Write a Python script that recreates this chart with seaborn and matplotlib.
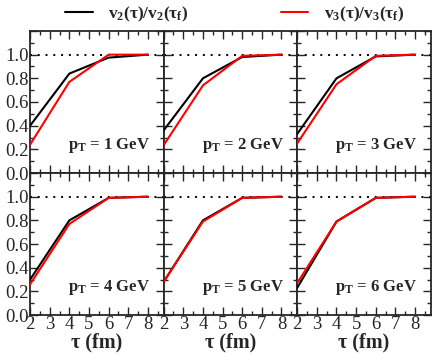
import numpy as np
import pandas as pd
import matplotlib
matplotlib.use("Agg")
import matplotlib.pyplot as plt
from matplotlib.ticker import MultipleLocator, FuncFormatter
import seaborn as sns

# values
tau = [2, 4, 6, 8]
pt_values = [1, 2, 3, 4, 5, 6]
v2_ratio = [
    [0.40, 0.84, 0.975, 1.0],
    [0.36, 0.80, 0.980, 1.0],
    [0.33, 0.80, 0.985, 1.0],
    [0.30, 0.80, 0.990, 1.0],
    [0.28, 0.80, 0.990, 1.0],
    [0.23, 0.79, 0.990, 1.0],
]
v3_ratio = [
    [0.24, 0.77, 1.000, 1.0],
    [0.235, 0.74, 0.990, 1.0],
    [0.25, 0.75, 0.990, 1.0],
    [0.26, 0.77, 0.990, 1.0],
    [0.28, 0.79, 0.990, 1.0],
    [0.27, 0.79, 0.990, 1.0],
]
series_labels = [r"$\mathbf{v_2(τ)/v_2(τ_f)}$", r"$\mathbf{v_3(τ)/v_3(τ_f)}$"]
series_colors = ["black", "red"]

rows = []
for i, pt in enumerate(pt_values):
    for t, a, b in zip(tau, v2_ratio[i], v3_ratio[i]):
        rows.append({"pt": pt, "tau": t, "value": a, "series": series_labels[0]})
        rows.append({"pt": pt, "tau": t, "value": b, "series": series_labels[1]})
df = pd.DataFrame(rows)

sns.set_style("ticks")
plt.rcParams["font.family"] = ["Liberation Serif", "DejaVu Serif"]
plt.rcParams["mathtext.fontset"] = "custom"
plt.rcParams["mathtext.rm"] = "Liberation Serif"
plt.rcParams["mathtext.bf"] = "Liberation Serif:bold"
plt.rcParams["mathtext.it"] = "Liberation Serif:italic"

fig, axes = plt.subplots(2, 3, figsize=(4.36, 3.56), dpi=100, sharex=True, sharey=True)
fig.subplots_adjust(left=0.069, right=0.988, top=0.913, bottom=0.115, wspace=0, hspace=0)

for ax, pt in zip(axes.flatten(), pt_values):
    ax.axhline(1.0, color="black", ls=(0, (1, 3)), lw=1.4, zorder=1)
    sns.lineplot(data=df[df["pt"] == pt], x="tau", y="value", hue="series",
                 palette=series_colors, hue_order=series_labels,
                 lw=1.5, ax=ax, legend=False, zorder=3)
    ax.set_xlim(2, 8.8)
    ax.set_ylim(0, 1.2)
    ax.xaxis.set_major_locator(MultipleLocator(1))
    ax.xaxis.set_minor_locator(MultipleLocator(0.5))
    ax.yaxis.set_major_locator(MultipleLocator(0.2))
    ax.yaxis.set_minor_locator(MultipleLocator(0.1))
    ax.yaxis.set_major_formatter(FuncFormatter(lambda v, p: "" if v > 1.1 else f"{v:.1f}"))
    ax.tick_params(which="both", direction="in", top=True, right=True, width=1.0)
    ax.tick_params(which="major", length=6, labelsize=13.5, pad=1)
    ax.tick_params(which="minor", length=3)
    for s in ax.spines.values():
        s.set_linewidth(1.3)
    ax.set_xlabel("")
    ax.set_ylabel("")
    ax.text(0.9, 0.17, r"$\mathbf{p_T}$ = %d GeV" % pt, transform=ax.transAxes,
            ha="right", va="baseline", fontsize=12, fontweight="bold")

for ax in axes[1]:
    ax.set_xlabel("τ (fm)", fontsize=14.5, fontweight="bold", labelpad=-1)

handles = [plt.Line2D([], [], color=c, lw=1.5) for c in series_colors]
fig.legend(handles, series_labels, loc="upper center", bbox_to_anchor=(0.538, 1.03),
           ncol=2, frameon=False, fontsize=12.5, handlelength=1.6,
           handletextpad=0.9, columnspacing=5.3)

fig.savefig("out.png", dpi=100)
